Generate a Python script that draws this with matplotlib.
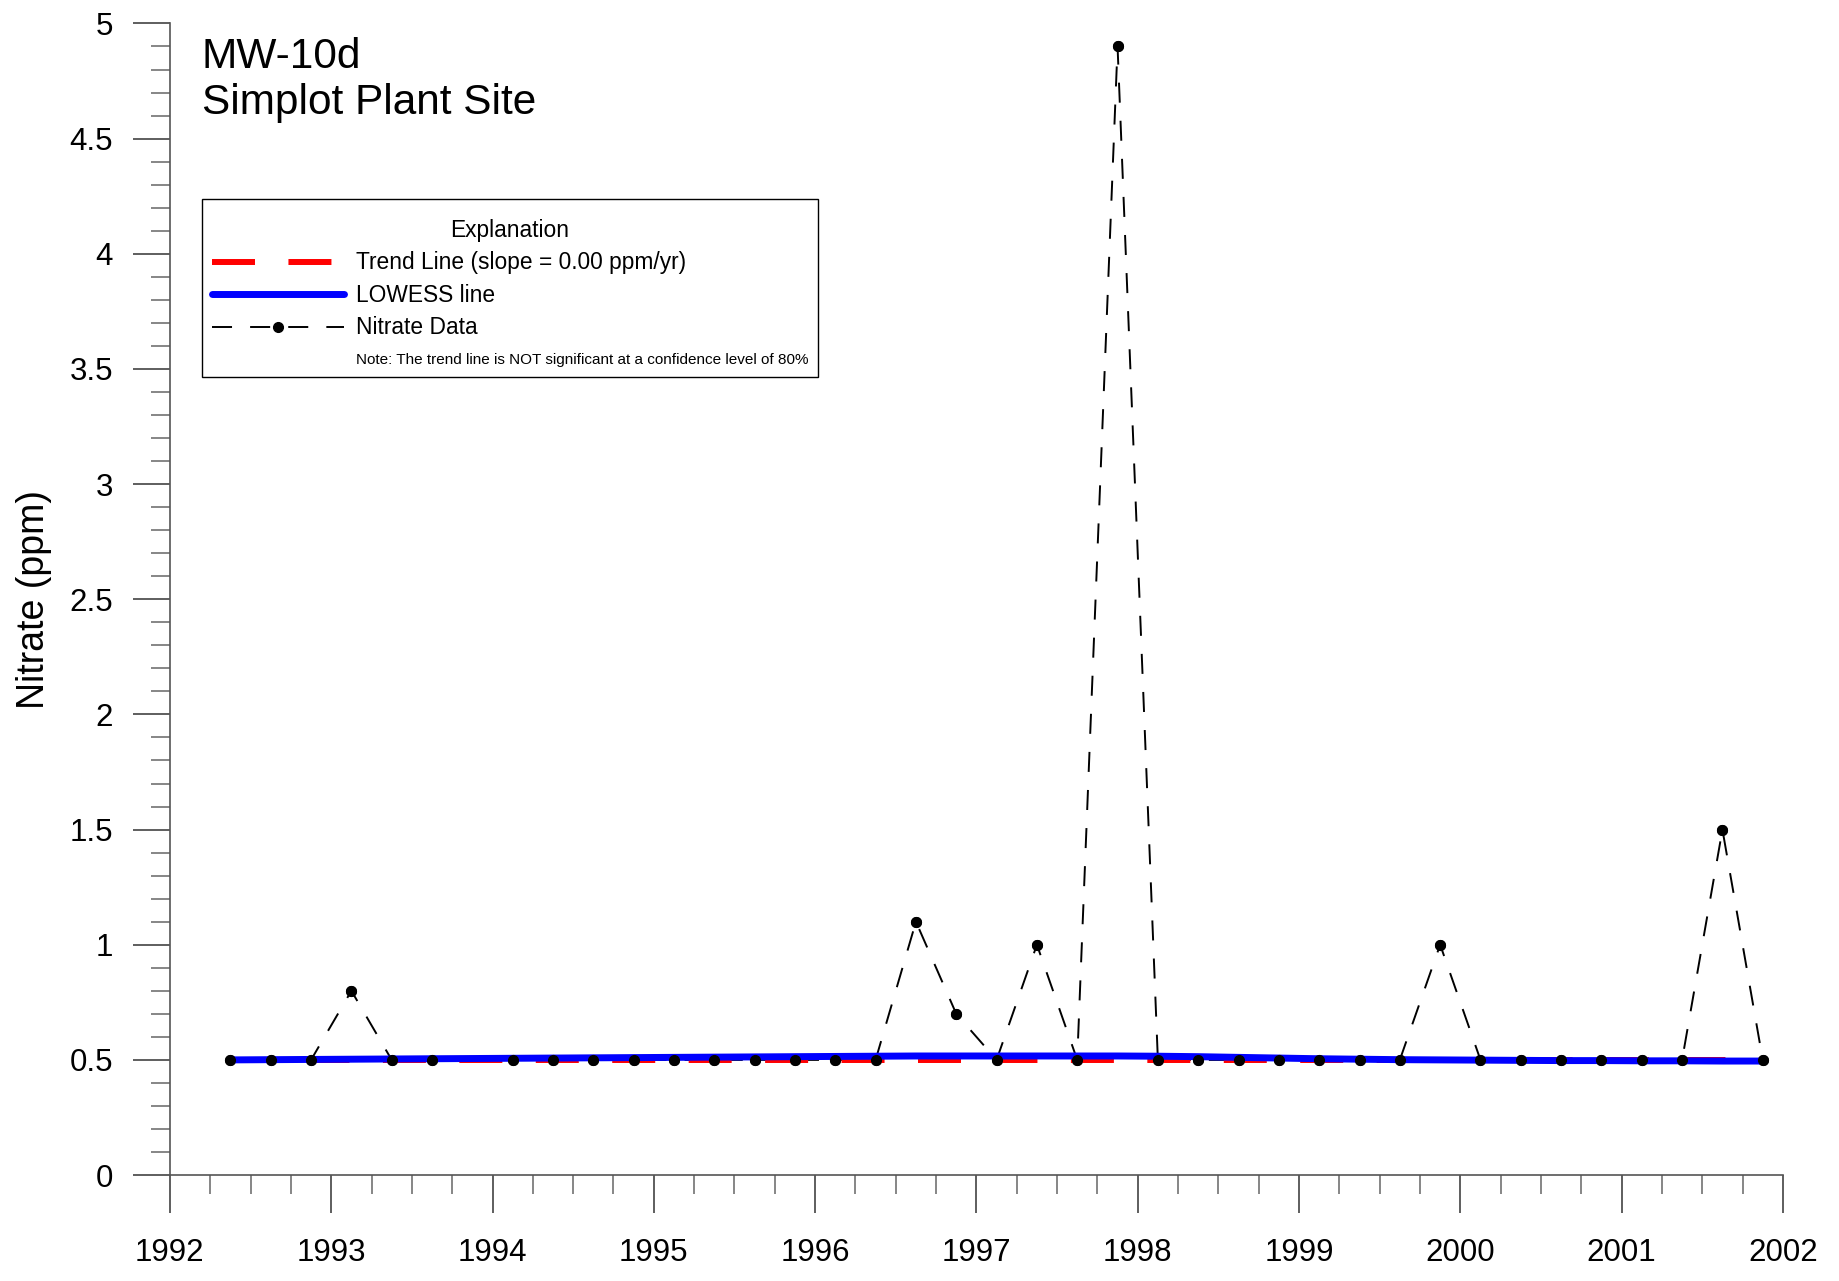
import matplotlib.pyplot as plt
from matplotlib.lines import Line2D
from matplotlib.ticker import MultipleLocator

plt.rcParams['font.family'] = ['Liberation Sans', 'DejaVu Sans']

# sampling dates (decimal years), quarterly, one sample missing in late 1993
dates = [1992.375, 1992.625, 1992.875,
         1993.125, 1993.375, 1993.625,
         1994.125, 1994.375, 1994.625, 1994.875,
         1995.125, 1995.375, 1995.625, 1995.875,
         1996.125, 1996.375, 1996.625, 1996.875,
         1997.125, 1997.375, 1997.625, 1997.875,
         1998.125, 1998.375, 1998.625, 1998.875,
         1999.125, 1999.375, 1999.625, 1999.875,
         2000.125, 2000.375, 2000.625, 2000.875,
         2001.125, 2001.375, 2001.625, 2001.875]

# nitrate, ppm
nitrate = [0.5, 0.5, 0.5,
           0.8, 0.5, 0.5,
           0.5, 0.5, 0.5, 0.5,
           0.5, 0.5, 0.5, 0.5,
           0.5, 0.5, 1.1, 0.7,
           0.5, 1.0, 0.5, 4.9,
           0.5, 0.5, 0.5, 0.5,
           0.5, 0.5, 0.5, 1.0,
           0.5, 0.5, 0.5, 0.5,
           0.5, 0.5, 1.5, 0.5]

# LOWESS smooth
lowess = [0.500, 0.501, 0.502,
          0.503, 0.504, 0.505,
          0.507, 0.508, 0.509, 0.510,
          0.511, 0.512, 0.513, 0.514,
          0.515, 0.516, 0.517, 0.517,
          0.517, 0.517, 0.517, 0.517,
          0.516, 0.514, 0.511, 0.508,
          0.505, 0.503, 0.501, 0.500,
          0.499, 0.498, 0.497, 0.497,
          0.496, 0.496, 0.495, 0.495]

trend_dates = [1992.375, 2001.875]
trend_vals = [0.5, 0.5]

title_lines = ["MW-10d", "Simplot Plant Site"]
note = "Note: The trend line is NOT significant at a confidence level of 80%"

fig = plt.figure(figsize=(18.39, 12.81), dpi=100)
ax = fig.add_axes([0.0924, 0.0827, 0.8771, 0.8990])

data_line, = ax.plot(dates, nitrate, color='black', lw=1.4,
                     linestyle=(0, (10.3, 9.3)), marker='o', ms=7,
                     zorder=2)
trend_line, = ax.plot(trend_dates, trend_vals, color='#ff0000', lw=4.3,
                      linestyle=(0, (7.2, 5.6)), solid_capstyle='butt',
                      zorder=3)
lowess_line, = ax.plot(dates, lowess, color='#0000ff', lw=5,
                       solid_capstyle='round', zorder=4)
# dots sit on top of the blue line
ax.plot(dates, nitrate, linestyle='none', marker='o', ms=7, color='black',
        zorder=5)

ax.set_xlim(1992, 2002)
ax.set_ylim(0, 5)
ax.xaxis.set_major_locator(MultipleLocator(1))
ax.xaxis.set_minor_locator(MultipleLocator(0.25))
ax.yaxis.set_major_locator(MultipleLocator(0.5))
ax.yaxis.set_minor_locator(MultipleLocator(0.1))
ax.xaxis.set_major_formatter(plt.FuncFormatter(lambda v, p: f"{v:.0f}"))
ax.yaxis.set_major_formatter(plt.FuncFormatter(lambda v, p: f"{v:g}"))

for side in ['top', 'right']:
    ax.spines[side].set_visible(False)
for side in ['left', 'bottom']:
    ax.spines[side].set_color('#555555')
    ax.spines[side].set_linewidth(1.2)

ax.tick_params(which='major', direction='out', length=27, width=1.1,
               color='#333333', labelsize=22.5)
ax.tick_params(which='minor', direction='out', length=14, width=1.1,
               color='#666666')
ax.tick_params(axis='x', which='major', pad=18)
ax.tick_params(axis='y', which='major', pad=14)

ax.set_ylabel("Nitrate (ppm)", fontsize=27)
ax.yaxis.set_label_coords(-0.073, 0.5)

ax.text(0.0197, 0.988, "\n".join(title_lines), transform=ax.transAxes,
        ha='left', va='top', fontsize=30.5, linespacing=1.2)

blank = Line2D([], [], linestyle='none')
# leading newline gives a bit more room above the legend title
leg = ax.legend([trend_line, lowess_line, data_line, blank],
                ["Trend Line (slope = 0.00 ppm/yr)", "LOWESS line",
                 "Nitrate Data", note],
                title="\nExplanation", loc='upper left',
                bbox_to_anchor=(0.0198, 0.8476), borderaxespad=0,
                fontsize=16.4, title_fontsize=16.4, handlelength=5.8,
                handletextpad=0.5, borderpad=0.45, labelspacing=0.42,
                handleheight=0.6,
                fancybox=False, framealpha=1, edgecolor='black')
leg.get_title().set_linespacing(0.25)
leg.get_frame().set_linewidth(1.0)
leg.get_texts()[3].set_fontsize(11)

fig.savefig("out.png", dpi=100)
